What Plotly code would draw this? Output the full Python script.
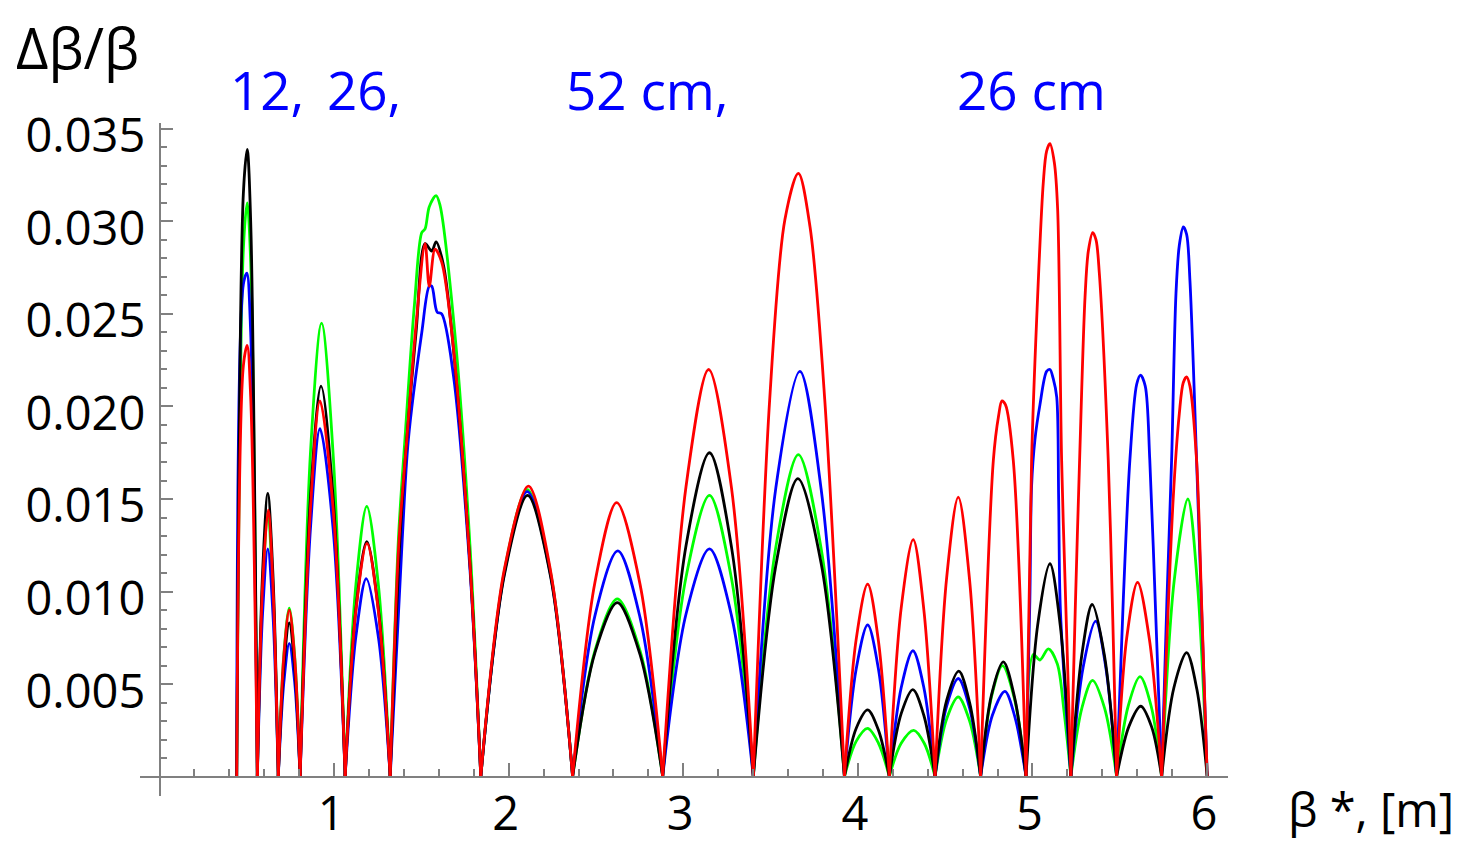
import plotly.graph_objects as go

# ---------------- data ----------------
# common zeros of all four curves (beta*, m)
ZEROS = [0.442, 0.560, 0.680, 0.805, 1.063, 1.321, 1.840, 2.366, 2.882, 3.401,
         3.923, 4.180, 4.442, 4.703, 4.963, 5.220, 5.482, 5.740, 6.001]

# interior sample points of every arch, per curve
BLACK_X = [[0.480, 0.502, 0.522], [0.590, 0.620, 0.650], [0.712, 0.743, 0.774],
           [0.865, 0.925, 0.995], [1.125, 1.187, 1.254],
           [1.377, 1.416, 1.470, 1.521, 1.559, 1.584, 1.625, 1.673, 1.778],
           [1.975, 2.108, 2.240], [2.494, 2.622, 2.752], [3.016, 3.150, 3.276],
           [3.530, 3.656, 3.790], [3.990, 4.056, 4.118], [4.248, 4.315, 4.378],
           [4.508, 4.578, 4.640], [4.765, 4.833, 4.897], [5.030, 5.100, 5.160],
           [5.283, 5.342, 5.413], [5.552, 5.620, 5.682], [5.810, 5.883, 5.942]]
BLACK_Y = [[0.0315, 0.0339, 0.0300], [0.0110, 0.0153, 0.0108], [0.0060, 0.0083, 0.0059],
           [0.0152, 0.0211, 0.0150], [0.0091, 0.0127, 0.0090],
           [0.0128, 0.0182, 0.0241, 0.0288, 0.0284, 0.0289, 0.0277, 0.0241, 0.0115],
           [0.0109, 0.0152, 0.0108], [0.0067, 0.0094, 0.0066], [0.0125, 0.0175, 0.0124],
           [0.0114, 0.0161, 0.0115], [0.0026, 0.0036, 0.0025], [0.0034, 0.0047, 0.0033],
           [0.0041, 0.0057, 0.0040], [0.0044, 0.0062, 0.0043], [0.0082, 0.0115, 0.0081],
           [0.0066, 0.0093, 0.0065], [0.0027, 0.0038, 0.0027], [0.0048, 0.0067, 0.0047]]

GREEN_X = [[0.480, 0.502, 0.522], [0.590, 0.620, 0.650], [0.712, 0.743, 0.774],
           [0.865, 0.928, 0.995], [1.125, 1.187, 1.254],
           [1.368, 1.406, 1.460, 1.502, 1.521, 1.545, 1.584, 1.606, 1.691, 1.778],
           [1.975, 2.106, 2.240], [2.494, 2.622, 2.752], [3.016, 3.150, 3.276],
           [3.530, 3.659, 3.790], [3.990, 4.056, 4.118], [4.248, 4.320, 4.380],
           [4.508, 4.575, 4.640], [4.765, 4.828, 4.897],
           [5.005, 5.043, 5.091, 5.142, 5.180],
           [5.283, 5.344, 5.413], [5.548, 5.616, 5.680], [5.812, 5.890, 5.945]]
GREEN_Y = [[0.0285, 0.0310, 0.0278], [0.0100, 0.0140, 0.0099], [0.0066, 0.0091, 0.0065],
           [0.0176, 0.0245, 0.0173], [0.0104, 0.0146, 0.0103],
           [0.0128, 0.0183, 0.0255, 0.0294, 0.0296, 0.0308, 0.0314, 0.0309, 0.0240, 0.0125],
           [0.0111, 0.0155, 0.0110], [0.0068, 0.0096, 0.0068], [0.0108, 0.0152, 0.0107],
           [0.0124, 0.0174, 0.0123], [0.0019, 0.0026, 0.0018], [0.0018, 0.0025, 0.0018],
           [0.0031, 0.0043, 0.0030], [0.0043, 0.0060, 0.0042],
           [0.0066, 0.0063, 0.0069, 0.0061, 0.0036],
           [0.0037, 0.0052, 0.0037], [0.0038, 0.0054, 0.0038], [0.0106, 0.0150, 0.0104]]

BLUE_X = [[0.480, 0.500, 0.522], [0.590, 0.620, 0.650], [0.712, 0.743, 0.774],
          [0.865, 0.919, 0.995], [1.125, 1.184, 1.254],
          [1.390, 1.425, 1.502, 1.545, 1.559, 1.590, 1.616, 1.683, 1.778],
          [1.975, 2.106, 2.240], [2.494, 2.625, 2.752], [3.016, 3.150, 3.276],
          [3.530, 3.668, 3.790], [3.990, 4.056, 4.118], [4.248, 4.315, 4.378],
          [4.508, 4.575, 4.640], [4.770, 4.842, 4.900],
          [4.985, 4.995, 5.014, 5.043, 5.081, 5.100, 5.119, 5.139, 5.150, 5.160],
          [5.290, 5.362, 5.420],
          [5.520, 5.558, 5.597, 5.619, 5.646, 5.672, 5.705],
          [5.770, 5.797, 5.822, 5.841, 5.864, 5.883, 5.902, 5.940, 5.975]]
BLUE_Y = [[0.0266, 0.0272, 0.0240], [0.0088, 0.0123, 0.0087], [0.0051, 0.0072, 0.0051],
          [0.0135, 0.0188, 0.0133], [0.0076, 0.0107, 0.0075],
          [0.0128, 0.0182, 0.0240, 0.0265, 0.0265, 0.0251, 0.0250, 0.0217, 0.0112],
          [0.0110, 0.0154, 0.0109], [0.0087, 0.0122, 0.0086], [0.0088, 0.0123, 0.0087],
          [0.0156, 0.0219, 0.0155], [0.0058, 0.0082, 0.0058], [0.0048, 0.0068, 0.0048],
          [0.0038, 0.0053, 0.0037], [0.0033, 0.0046, 0.0032],
          [0.0095, 0.0157, 0.0182, 0.0201, 0.0219, 0.0220, 0.0215, 0.0205, 0.0150, 0.0090],
          [0.0059, 0.0084, 0.0059],
          [0.0095, 0.0171, 0.0212, 0.0217, 0.0211, 0.0171, 0.0090],
          [0.0095, 0.0171, 0.0261, 0.0287, 0.0297, 0.0293, 0.0268, 0.0171, 0.0073]]

RED_X = [[0.480, 0.502, 0.522], [0.590, 0.622, 0.650], [0.712, 0.743, 0.774],
         [0.865, 0.919, 0.995], [1.125, 1.188, 1.254],
         [1.370, 1.416, 1.470, 1.521, 1.545, 1.578, 1.616, 1.673, 1.778],
         [1.975, 2.113, 2.240], [2.494, 2.618, 2.752], [3.016, 3.145, 3.276],
         [3.495, 3.582, 3.659, 3.726, 3.810], [3.990, 4.056, 4.118], [4.248, 4.317, 4.378],
         [4.508, 4.575, 4.640], [4.776, 4.806, 4.825, 4.845, 4.890],
         [4.995, 5.024, 5.062, 5.081, 5.100, 5.125, 5.144, 5.167, 5.195],
         [5.245, 5.270, 5.301, 5.320, 5.345, 5.364, 5.383, 5.434, 5.460],
         [5.540, 5.602, 5.670],
         [5.806, 5.841, 5.864, 5.883, 5.902, 5.940, 5.970]]
RED_Y = [[0.0222, 0.0233, 0.0205], [0.0103, 0.0144, 0.0102], [0.0065, 0.0090, 0.0064],
         [0.0146, 0.0203, 0.0144], [0.0090, 0.0126, 0.0089],
         [0.0125, 0.0182, 0.0245, 0.0288, 0.0265, 0.0285, 0.0278, 0.0241, 0.0115],
         [0.0112, 0.0157, 0.0111], [0.0105, 0.0148, 0.0104], [0.0157, 0.0220, 0.0156],
         [0.0204, 0.0301, 0.0326, 0.0297, 0.0204], [0.0074, 0.0104, 0.0073],
         [0.0091, 0.0128, 0.0090], [0.0107, 0.0151, 0.0106],
         [0.0171, 0.0195, 0.0203, 0.0201, 0.0171],
         [0.0171, 0.0247, 0.0321, 0.0338, 0.0342, 0.0332, 0.0307, 0.0171, 0.0080],
         [0.0090, 0.0171, 0.0259, 0.0284, 0.0294, 0.0290, 0.0272, 0.0171, 0.0085],
         [0.0075, 0.0105, 0.0074],
         [0.0150, 0.0196, 0.0213, 0.0216, 0.0211, 0.0171, 0.0090]]

X_TICKS = [0, 1, 2, 3, 4, 5, 6]
X_TICK_LABELS = ["", "1", "2", "3", "4", "5", "6"]
Y_TICKS = [0, 0.005, 0.010, 0.015, 0.020, 0.025, 0.030, 0.035]
Y_TICK_LABELS = ["", "0.005", "0.010", "0.015", "0.020", "0.025", "0.030", "0.035"]

LABELS_TOP = ["12,", "26,", "52 cm,", "26 cm"]

# ---------------- figure ----------------
X_RANGE = [-0.112, 6.12]
Y_RANGE = [-0.00105, 0.03532]
W, H = 1470, 841
OFF = 8                      # page body margin of the html page
ML, MR, MT, MB = 132, 250, 115, 53
AX = "#808080"
FONT = "Open Sans"


def build(xs_list, ys_list):
    X, Y = [], []
    for i, (xs, ys) in enumerate(zip(xs_list, ys_list)):
        X += [ZEROS[i]] + list(xs) + [ZEROS[i + 1], None]
        Y += [0.0] + list(ys) + [0.0, None]
    return X, Y


fig = go.Figure()
for name, xs, ys, col in [("green", GREEN_X, GREEN_Y, "#00ff00"),
                          ("blue", BLUE_X, BLUE_Y, "#0000ff"),
                          ("black", BLACK_X, BLACK_Y, "#000000"),
                          ("red", RED_X, RED_Y, "#ff0000")]:
    X, Y = build(xs, ys)
    fig.add_trace(go.Scatter(x=X, y=Y, mode="lines", name=name,
                             line=dict(color=col, width=2.8, shape="spline", smoothing=0.9),
                             connectgaps=False, showlegend=False, hoverinfo="skip"))

px0 = (0 - X_RANGE[0]) / (X_RANGE[1] - X_RANGE[0])
py0 = (0 - Y_RANGE[0]) / (Y_RANGE[1] - Y_RANGE[0])

fig.update_layout(
    width=W, height=H,
    margin=dict(l=ML, r=MR, t=MT, b=MB, autoexpand=False),
    plot_bgcolor="white", paper_bgcolor="white",
    xaxis=dict(range=X_RANGE, showgrid=False, zeroline=False, showline=True,
               automargin=False,
               linecolor=AX, linewidth=1.6, anchor="free", position=py0,
               ticks="inside", ticklen=13, tickwidth=1.6, tickcolor=AX,
               tickmode="array", tickvals=X_TICKS, ticktext=X_TICK_LABELS,
               tickfont=dict(family=FONT, size=47, color="black"),
               ticklabelstandoff=-4, ticklabelshift=-3,
               minor=dict(dtick=0.2, tick0=0, ticklen=7, tickwidth=1.6,
                          tickcolor=AX, ticks="inside", showgrid=False)),
    yaxis=dict(range=Y_RANGE, showgrid=False, zeroline=False, showline=True,
               automargin=False,
               linecolor=AX, linewidth=1.6, anchor="free", position=px0,
               ticks="inside", ticklen=13, tickwidth=1.6, tickcolor=AX,
               tickmode="array", tickvals=Y_TICKS, ticktext=Y_TICK_LABELS,
               tickfont=dict(family=FONT, size=47, color="black"),
               ticklabelstandoff=4, ticklabelshift=7,
               minor=dict(dtick=0.001, tick0=0, ticklen=7, tickwidth=1.6,
                          tickcolor=AX, ticks="inside", showgrid=False)),
)


def pxx(p):
    return (p - OFF - ML) / (W - ML - MR)


def pxy(p):
    return (H - MB - (p - OFF)) / (H - MT - MB)


fig.add_annotation(text="Δβ/β", xref="paper", yref="paper", x=pxx(14), y=pxy(47),
                   xanchor="left", yanchor="middle", showarrow=False,
                   font=dict(family=FONT, size=56, color="black"))
fig.add_annotation(text="β *, [m]", xref="paper", yref="paper", x=pxx(1456), y=pxy(809),
                   xanchor="right", yanchor="middle", showarrow=False,
                   font=dict(family=FONT, size=47, color="black"))
for txt, cx in zip(LABELS_TOP, [267, 364, 647, 1031]):
    fig.add_annotation(text=txt, xref="paper", yref="paper", x=pxx(cx), y=pxy(90),
                       xanchor="center", yanchor="middle", showarrow=False,
                       font=dict(family=FONT, size=53, color="#0000ff"))

fig.write_html("out.html")
